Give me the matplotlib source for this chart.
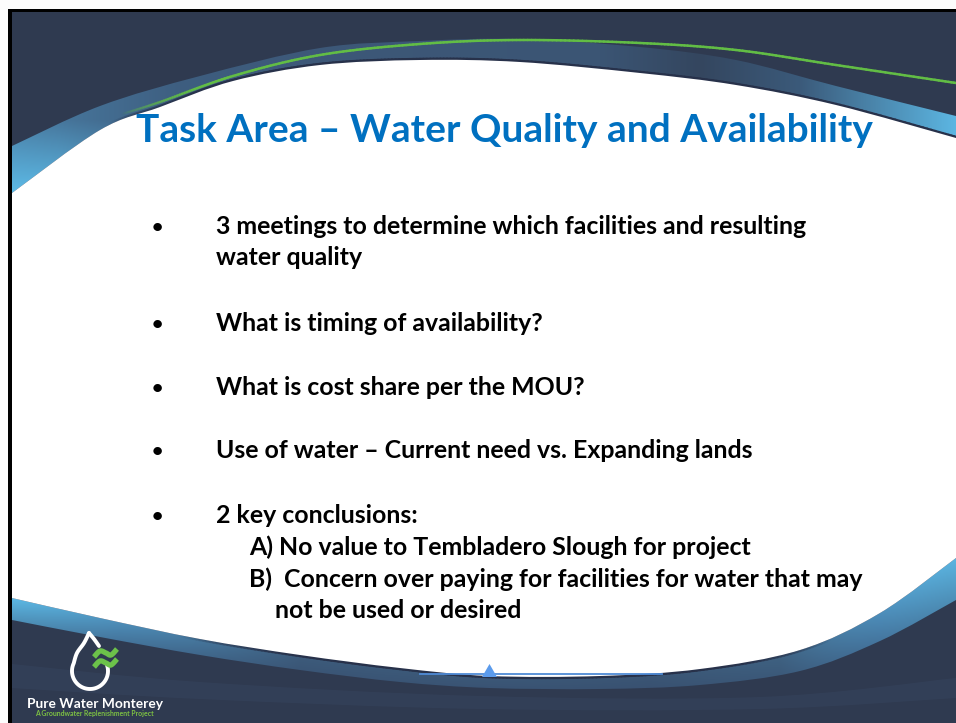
import numpy as np
import matplotlib
matplotlib.use("Agg")
import matplotlib.pyplot as plt
from matplotlib.path import Path
from matplotlib.patches import PathPatch, Rectangle, Polygon
from matplotlib.collections import LineCollection
from matplotlib.colors import to_rgb

# ---------------- content ----------------
title_text = "Task Area – Water Quality and Availability"
bullet_lines = [
    ["3 meetings to determine which facilities and resulting", "water quality"],
    ["What is timing of availability?"],
    ["What is cost share per the MOU?"],
    ["Use of water – Current need vs. Expanding lands"],
    ["2 key conclusions:"],
]
conclusion_lines = [
    ["A) No value to Tembladero Slough for project"],
    ["B)  Concern over paying for facilities for water that may", "not be used or desired"],
]
logo_name = "Pure Water Monterey"
logo_tagline = "A Groundwater Replenishment Project"

# ---------------- styles ----------------
NAVY = "#2f3a50"
DARK_EDGE = "#27314a"
TITLE_BLUE = "#0070C0"
GREEN = "#62bd45"
LIGHT = "#5cb8e4"
FONT = "Lato"

W_, H_ = 956, 723
fig = plt.figure(figsize=(W_ / 100, H_ / 100), dpi=100, facecolor="#fcfcfc")
ax = fig.add_axes([0, 0, 1, 1])
ax.set_xlim(0, W_)
ax.set_ylim(H_, 0)
ax.axis("off")

# slide frame
ax.add_patch(Rectangle((8.5, 9), W_ - 8.5, H_ - 9, facecolor="black", edgecolor="none", zorder=0))
ax.add_patch(Rectangle((12, 12), W_ - 12, H_ - 12, facecolor=NAVY, edgecolor="none", zorder=1))


def smooth(pts):
    P = np.asarray(pts, float)
    n = len(P)
    verts = [P[0]]
    codes = [Path.MOVETO]
    for i in range(n - 1):
        p0 = P[max(i - 1, 0)]
        p1 = P[i]
        p2 = P[i + 1]
        p3 = P[min(i + 2, n - 1)]
        verts += [p1 + (p2 - p0) / 6.0, p2 - (p3 - p1) / 6.0, p2]
        codes += [Path.CURVE4] * 3
    return verts, codes


def band_path(upper, lower):
    v1, c1 = smooth(upper)
    v2, c2 = smooth(lower[::-1])
    c2[0] = Path.LINETO
    return Path(v1 + v2 + [v1[0]], c1 + c2 + [Path.CLOSEPOLY])


def sample(pts, n=30):
    v, c = smooth(pts)
    out = []
    for seg, code in Path(v, c).iter_bezier():
        if code == Path.MOVETO:
            continue
        out.append(seg(np.linspace(0, 1, n)))
    return np.vstack(out)


# decorative curves (pixel space of the slide)
top_upper = [(12, 146), (100, 106), (200, 76), (320, 48), (420, 41), (520, 39),
             (640, 47), (736, 60), (836, 86), (956, 116)]
top_white = [(12, 193), (100, 130), (160, 107), (233, 81), (320, 65), (420, 60),
             (520, 62), (640, 73), (736, 85), (836, 105), (956, 138)]
green_curve = [(122, 114), (160, 102), (233, 76), (320, 55), (420, 44), (520, 40),
               (640, 43), (736, 50), (836, 65), (956, 83)]
bot_white = [(12, 598), (100, 618), (200, 639), (300, 655), (400, 668), (489, 676),
             (600, 676), (700, 669), (800, 650), (880, 613), (956, 558)]
bot_lower = [(12, 620), (100, 637), (200, 655), (300, 670), (400, 682), (489, 688),
             (600, 689), (700, 685), (800, 671), (880, 641), (956, 600)]
stripe_a = [(12, 664), (200, 682), (480, 696), (760, 697), (956, 678)]
stripe_b = [(12, 688), (200, 699), (480, 709), (760, 709), (956, 698)]

X = np.arange(W_) + 0.5
Y = (np.arange(H_) + 0.5)[:, None]


def hgrad(xs, cols):
    rgb = np.array([to_rgb(c) for c in cols])
    row = np.stack([np.interp(X, xs, rgb[:, k]) for k in range(3)], axis=-1)
    return np.repeat(row[None, :, :], H_, axis=0)


def mix(img, col, w):
    c = np.array(to_rgb(col))
    return img * (1 - w[..., None]) + c * w[..., None]


# faint lower stripe
sp = PathPatch(band_path(stripe_a, stripe_b), facecolor="#3a4a66", edgecolor="none",
               alpha=0.35, zorder=1.5)
ax.add_patch(sp)

# top band gradient
top_img = hgrad([12, 180, 320, 600, 700, 800, 956],
                ["#4a7fa6", "#3e5e80", "#3d5878", "#3b5574", "#34465f", "#3b5a7a", "#5cb6e2"])
wl = np.clip((Y - 120) / 70.0, 0, 1) * np.clip((260 - X[None, :]) / 200.0, 0, 1)
top_img = mix(top_img, LIGHT, wl)
im1 = ax.imshow(top_img, extent=(0, W_, H_, 0), origin="upper", aspect="auto",
                interpolation="bilinear", zorder=2)
im1.set_clip_path(PathPatch(band_path(top_upper, top_white), transform=ax.transData))

# bottom band gradient
bot_img = hgrad([12, 120, 300, 650, 780, 880, 956],
                ["#5cb9e5", "#4d8db8", "#3d5c7c", "#3b5675", "#3f6282", "#4d8ebb", "#5bb5e1"])
sB = sample(bot_white)
sL = sample(bot_lower)
yB = np.interp(X, sB[:, 0], sB[:, 1])
yL = np.interp(X, sL[:, 0], sL[:, 1])
tv = np.clip((Y - yB[None, :]) / np.maximum(yL - yB, 1)[None, :], 0, 1)
bot_img = mix(bot_img, "#35496a", 0.35 * tv)
im2 = ax.imshow(bot_img, extent=(0, W_, H_, 0), origin="upper", aspect="auto",
                interpolation="bilinear", zorder=2)
im2.set_clip_path(PathPatch(band_path(bot_white, bot_lower), transform=ax.transData))

ax.set_xlim(0, W_)
ax.set_ylim(H_, 0)


def fading_line(pts, x_in0, x_in1, color, lw, z, x_out0=None, x_out1=None):
    s = sample(pts)
    segs = np.stack([s[:-1], s[1:]], axis=1)
    xm = segs[:, :, 0].mean(axis=1)
    a = np.clip((xm - x_in0) / max(x_in1 - x_in0, 1), 0, 1)
    if x_out0 is not None:
        a = a * np.clip((x_out1 - xm) / max(x_out1 - x_out0, 1), 0, 1)
    rgb = to_rgb(color)
    cols = [(rgb[0], rgb[1], rgb[2], float(v)) for v in a]
    lc = LineCollection(segs, colors=cols, linewidths=lw, zorder=z, capstyle="round")
    ax.add_collection(lc)


# dark slivers along the white edges
fading_line(top_white, 110, 220, DARK_EDGE, 3.2, 3)
fading_line(bot_white, 180, 320, DARK_EDGE, 3.2, 3, 720, 830)

# white content area
ax.add_patch(PathPatch(band_path(top_white, bot_white), facecolor="white",
                       edgecolor="none", zorder=4))

# green accent line
fading_line(green_curve, 122, 200, GREEN, 1.8, 5)

# bottom centre marker
ax.plot([420, 662], [674, 674], color="#4f8bd6", lw=1.3, zorder=5)
ax.add_patch(Polygon([(482, 677), (489.5, 664), (497, 677)], closed=True,
                     facecolor="#5b9bec", edgecolor="none", zorder=6))

# ---------------- logo ----------------
cx, cy, r = 90, 671, 18
phi = np.radians(np.linspace(205, -18, 80))
arc = np.column_stack([cx + r * np.cos(phi), cy + r * np.sin(phi)])
left_side = sample([(89, 633), (84, 643), (77, 653), arc[0]], 12)
drop = np.vstack([left_side, arc])
ax.plot(drop[:, 0], drop[:, 1], color="white", lw=2.8, solid_capstyle="round", zorder=6)
right_side = sample([(89, 633), (94, 639), (99, 646)], 10)
ax.plot(right_side[:, 0], right_side[:, 1], color="white", lw=2.8,
        solid_capstyle="round", zorder=6)
for dy in (0, 10):
    wv = sample([(94, 657 + dy), (100, 651 + dy), (106, 653 + dy), (111, 655 + dy),
                 (117, 649 + dy)], 12)
    ax.plot(wv[:, 0], wv[:, 1], color="#6cc24a", lw=3.8, solid_capstyle="butt", zorder=6)

renderer = fig.canvas.get_renderer()


def fit(t, target_w):
    t.set_fontsize(10)
    w = t.get_window_extent(renderer).width
    t.set_fontsize(10 * target_w / w)
    return 10 * target_w / w


t = ax.text(95.5, 708, logo_name, ha="center", va="baseline", color="white",
            family=FONT, fontweight="bold", zorder=7)
fit(t, 136)
t = ax.text(94, 716, logo_tagline, ha="center", va="baseline", color="#7dc143",
            family=FONT, fontweight="bold", zorder=7)
fit(t, 120)

# ---------------- text ----------------
t = ax.text(504, 142, title_text, ha="center", va="baseline", color=TITLE_BLUE,
            family=FONT, fontweight="bold", zorder=7)
fit(t, 738)

probe = ax.text(216, 234, bullet_lines[0][0], ha="left", va="baseline", color="black",
                family=FONT, fontweight="bold", zorder=7)
body_fs = fit(probe, 592)
probe.remove()

LINE_STEP = 31
bullet_baselines = [234, 331, 395, 458, 523]
for lines, yb in zip(bullet_lines, bullet_baselines):
    ax.text(157, yb - 1, "•", ha="center", va="baseline", color="black", family=FONT,
            fontweight="bold", fontsize=body_fs * 0.78, zorder=7)
    for k, ln in enumerate(lines):
        ax.text(216, yb + k * LINE_STEP, ln, ha="left", va="baseline", color="black",
                family=FONT, fontweight="bold", fontsize=body_fs, zorder=7)

conclusion_baselines = [555, 587]
for lines, yb in zip(conclusion_lines, conclusion_baselines):
    for k, ln in enumerate(lines):
        ax.text(249 if k == 0 else 275, yb + k * LINE_STEP, ln, ha="left", va="baseline",
                color="black", family=FONT, fontweight="bold", fontsize=body_fs, zorder=7)

fig.savefig("out.png", dpi=100, facecolor=fig.get_facecolor())
